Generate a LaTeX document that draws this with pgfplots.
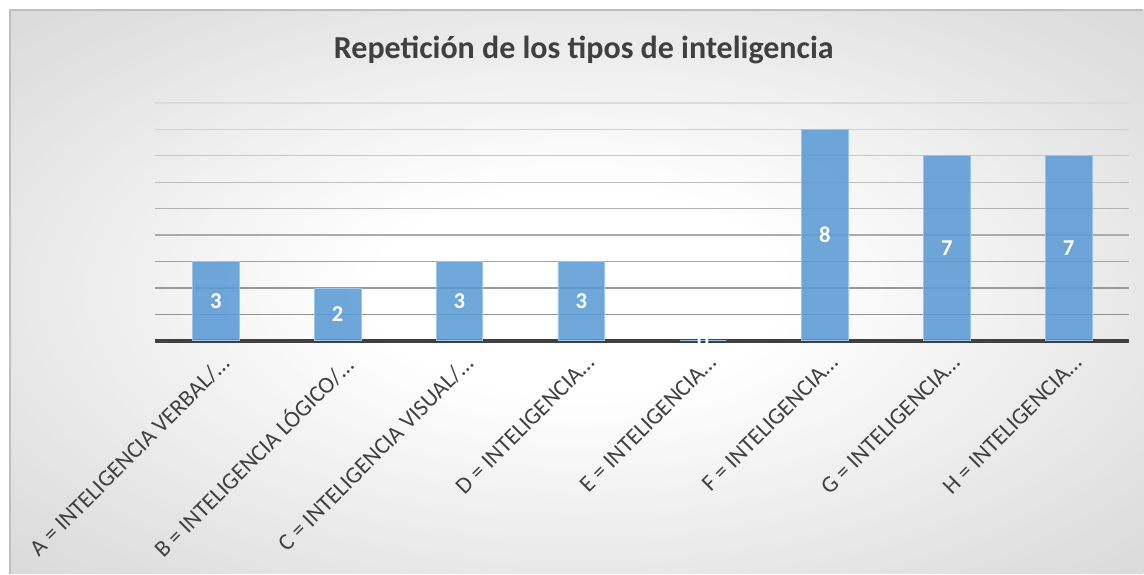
\documentclass[border=0pt]{standalone}
\usepackage{pgfplots}
\pgfplotsset{compat=1.18}
\usepackage{pgfplotstable}
\usepackage{fontspec}
\setmainfont{Carlito}
\definecolor{txt}{HTML}{404040}
\definecolor{barblue}{HTML}{5B9BD5}
\definecolor{baredge}{HTML}{9DC3E6}
\pgfdeclareradialshading{bgshade}{\pgfpoint{0bp}{0bp}}{color(0bp)=(white);color(9bp)=(white);color(30bp)=(black!12);color(50bp)=(black!21);color(71bp)=(black!27)}
\pgfplotstableread{
x y
0 3
1 2
2 3
3 3
4 0
5 8
6 7
7 7
}\datatable
\begin{document}
\begin{tikzpicture}
\fill[white] (0,0) rectangle (858pt,430.5pt);
\shade[shading=bgshade] (7.5pt,0pt) rectangle (858pt,423pt);
\draw[black!25, line width=0.8pt] (7.5pt,0pt) -- (7.5pt,423pt) -- (858pt,423pt);
\node[font=\bfseries\fontsize{24}{28}\selectfont, text=txt] at (438pt,393pt) {Repetición de los tipos de inteligencia};
\begin{axis}[
  at={(116.25pt,174.75pt)}, anchor=south west,
  scale only axis, width=731.25pt, height=178.5pt,
  xmin=-0.5, xmax=7.5, ymin=0, ymax=9,
  axis x line=bottom, axis y line=none,
  x axis line style={-, line width=3pt, color=txt},
  xtick=data, ytick=\empty,
  major tick length=0pt,
  /pgf/number format/assume math mode=true,
  xticklabels={{A = INTELIGENCIA VERBAL/…},{B = INTELIGENCIA LÓGICO/…},{C = INTELIGENCIA VISUAL/…},{D = INTELIGENCIA…},{E = INTELIGENCIA…},{F = INTELIGENCIA…},{G = INTELIGENCIA…},{H = INTELIGENCIA…}},
  xticklabel style={rotate=45, anchor=north east, font=\fontsize{17.5}{20}\selectfont, text=txt, inner sep=2pt, xshift=-2.8pt, yshift=-6.5pt},
  clip=false,
]
\draw[black!43, line width=1pt] (axis cs:-0.5,1) -- (axis cs:7.5,1);
\draw[black!40, line width=1pt] (axis cs:-0.5,2) -- (axis cs:7.5,2);
\draw[black!37, line width=1pt] (axis cs:-0.5,3) -- (axis cs:7.5,3);
\draw[black!33, line width=1pt] (axis cs:-0.5,4) -- (axis cs:7.5,4);
\draw[black!30, line width=1pt] (axis cs:-0.5,5) -- (axis cs:7.5,5);
\draw[black!26, line width=1pt] (axis cs:-0.5,6) -- (axis cs:7.5,6);
\draw[black!22, line width=1pt] (axis cs:-0.5,7) -- (axis cs:7.5,7);
\draw[black!18, line width=1pt] (axis cs:-0.5,8) -- (axis cs:7.5,8);
\draw[black!14, line width=1pt] (axis cs:-0.5,9) -- (axis cs:7.5,9);
\addplot[ybar, bar width=35pt, fill=barblue, fill opacity=0.88, draw=baredge, line width=0.6pt] table[x=x,y=y] {\datatable};
\addplot[only marks, mark=none, point meta=explicit, nodes near coords, nodes near coords align={center},
  every node near coord/.append style={anchor=center, font=\bfseries\fontsize{17}{20}\selectfont, text=white}]
  table[x=x, y expr=\thisrow{y}/2, meta=y] {\datatable};
\end{axis}
\end{tikzpicture}
\end{document}
